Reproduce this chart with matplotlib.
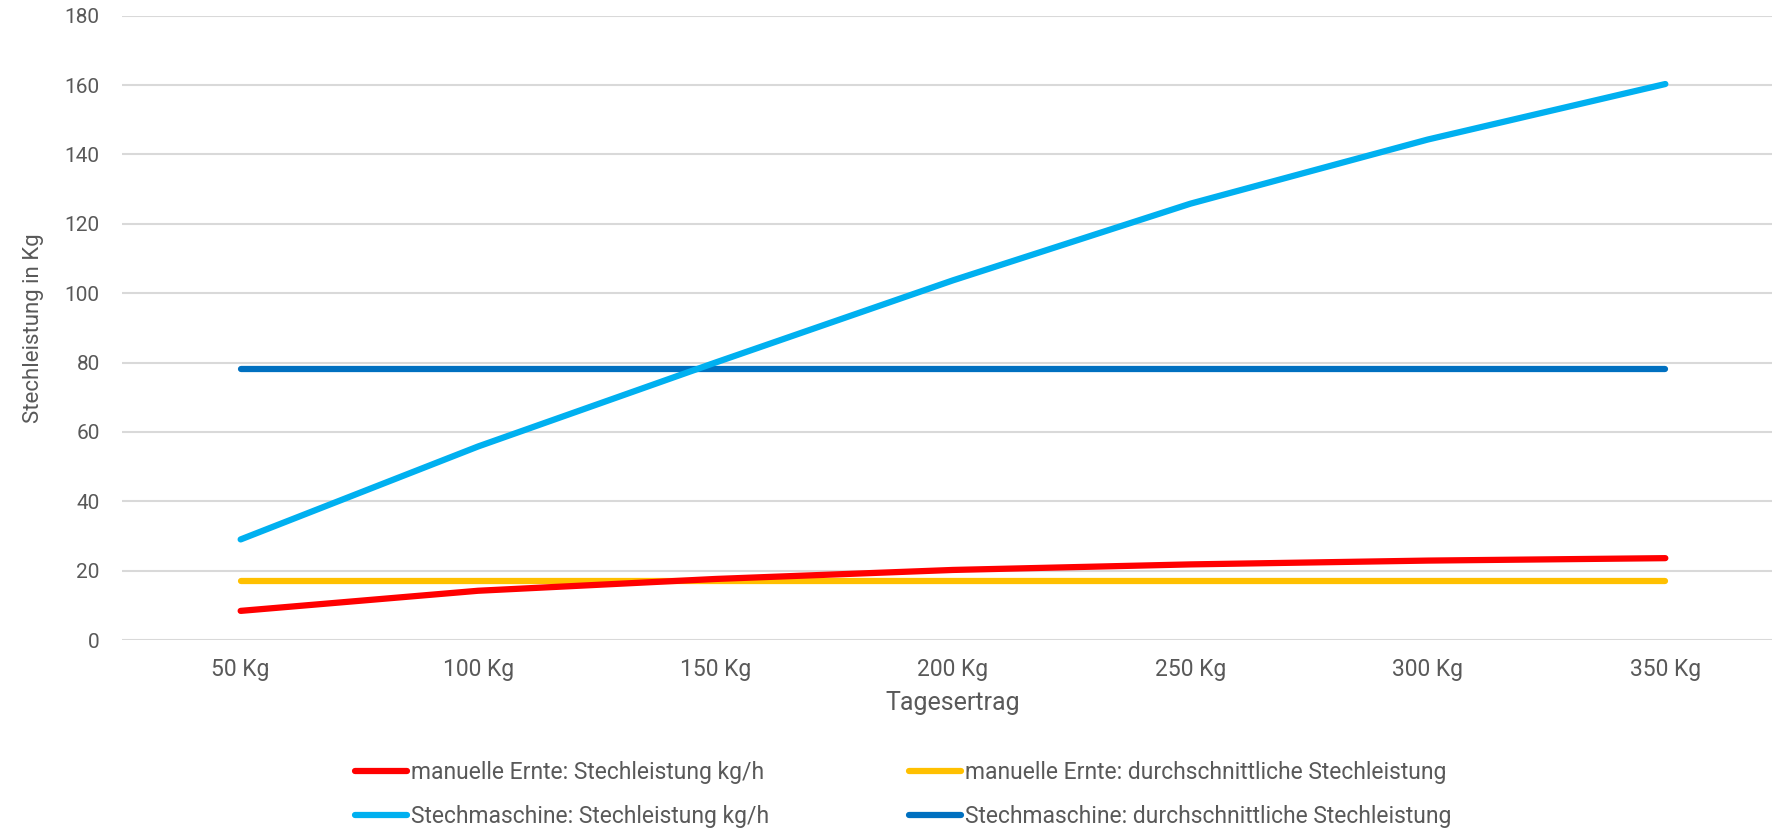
import matplotlib
matplotlib.use("Agg")
import matplotlib.pyplot as plt
import numpy as np

# Tagesertrag-Kategorien
ertrag = ["50 Kg", "100 Kg", "150 Kg", "200 Kg", "250 Kg", "300 Kg", "350 Kg"]

# Stechleistung in Kg
manuell_kgh = [8.4, 14.2, 17.6, 20.2, 21.8, 22.9, 23.6]
manuell_schnitt = [17.0, 17.0, 17.0, 17.0, 17.0, 17.0, 17.0]
maschine_kgh = [29.0, 55.8, 80.0, 103.7, 125.8, 144.3, 160.3]
maschine_schnitt = [78.0, 78.0, 78.0, 78.0, 78.0, 78.0, 78.0]

grau = "#595959"
plt.rcParams['font.family'] = ['Roboto', 'DejaVu Sans']

fig = plt.figure(figsize=(17.72, 8.30), dpi=100)
ax = fig.add_axes([0.0688, 0.2289, 0.938, 0.7522])

x = np.arange(len(ertrag))
lw = 4.5
ax.plot(x, manuell_kgh, color="#FF0000", lw=lw, solid_capstyle="round",
        label="manuelle Ernte: Stechleistung kg/h", zorder=3)
ax.plot(x, maschine_kgh, color="#00B0F0", lw=lw, solid_capstyle="round",
        label="Stechmaschine: Stechleistung kg/h", zorder=3)
ax.plot(x, manuell_schnitt, color="#FFC000", lw=lw, solid_capstyle="round",
        label="manuelle Ernte: durchschnittliche Stechleistung", zorder=2)
ax.plot(x, maschine_schnitt, color="#0070C0", lw=lw, solid_capstyle="round",
        label="Stechmaschine: durchschnittliche Stechleistung", zorder=2)

ax.set_xlim(-0.5, len(ertrag) - 0.5)
ax.set_ylim(0, 180)
ax.set_yticks(np.arange(0, 181, 20))
ax.set_xticks(x)
ax.set_xticklabels(ertrag)
ax.grid(axis="y", color="#D9D9D9", lw=1.5)
ax.set_axisbelow(True)
for s in ax.spines.values():
    s.set_visible(False)
ax.tick_params(axis="y", length=0, pad=16, labelsize=15, labelcolor=grau)
ax.tick_params(axis="x", length=0, pad=13, labelsize=16.5, labelcolor=grau)

ax.set_xlabel("Tagesertrag", fontsize=18, color=grau, labelpad=7)
ax.set_ylabel("Stechleistung in Kg", fontsize=16, color=grau, labelpad=15)

fig.legend(loc="center left", bbox_to_anchor=(0.1888, 0.043), ncol=2, frameon=False,
           prop={'size': 16.5}, labelcolor=grau, handlelength=2.25, handletextpad=0.2,
           columnspacing=6.1, labelspacing=0.9)

fig.savefig("out.png", dpi=100)
